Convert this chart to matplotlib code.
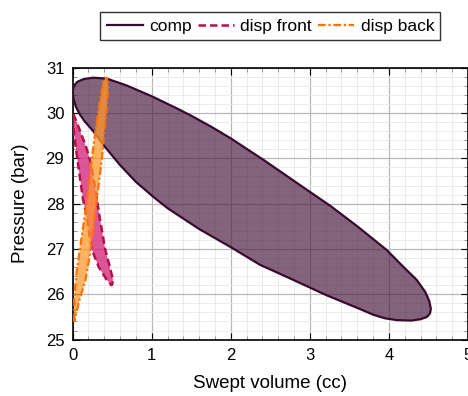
import matplotlib.pyplot as plt
from matplotlib.ticker import MultipleLocator

plt.rcParams['font.family'] = ['Liberation Sans', 'DejaVu Sans']
plt.rcParams['font.size'] = 12

# closed p-V loops (cc, bar)
comp_v = [0.0, 0.005, 0.02, 0.06, 0.14, 0.26, 0.43, 0.68, 1.0, 1.32, 1.5, 1.75, 2.0, 2.41, 3.0, 3.26, 3.6, 3.97,
          4.18, 4.35, 4.46, 4.51, 4.53, 4.52, 4.48, 4.40, 4.28, 4.1, 3.95, 3.8, 3.64, 3.21, 2.75, 2.37, 1.99,
          1.82, 1.6, 1.4, 1.2, 1.02, 0.8, 0.6, 0.41, 0.26, 0.15, 0.09, 0.04, 0.01, 0.0]
comp_p = [30.46, 30.53, 30.61, 30.69, 30.75, 30.78, 30.76, 30.61, 30.37, 30.10, 29.94, 29.70, 29.44, 28.97, 28.26, 27.95, 27.5, 26.98,
          26.61, 26.32, 26.05, 25.85, 25.68, 25.58, 25.5, 25.45, 25.42, 25.43, 25.47, 25.55, 25.67, 25.98, 26.35, 26.65, 27.05,
          27.22, 27.44, 27.67, 27.9, 28.15, 28.48, 28.85, 29.25, 29.6, 29.82, 29.97, 30.14, 30.32, 30.46]

front_v = [0.01, 0.09, 0.17, 0.23, 0.29, 0.34, 0.41, 0.47, 0.51, 0.50, 0.49, 0.43, 0.33, 0.24, 0.18,
           0.13, 0.09, 0.05, 0.02, 0.0, 0.01]
front_p = [29.98, 29.62, 29.25, 28.9, 28.3, 27.71, 27.0, 26.6, 26.32, 26.22, 26.2, 26.32, 26.6, 27.0, 27.7,
           28.1, 28.6, 29.1, 29.5, 29.9, 29.98]

back_v = [0.02, 0.02, 0.05, 0.10, 0.15, 0.20, 0.24, 0.28, 0.33, 0.39, 0.43, 0.45, 0.43, 0.40, 0.37,
          0.32, 0.27, 0.22, 0.16, 0.09, 0.04, 0.02]
back_p = [25.4, 25.9, 26.5, 27.1, 27.7, 28.3, 28.96, 29.5, 30.1, 30.72, 30.78, 30.6, 30.1, 29.6, 29.0,
          28.3, 27.6, 26.9, 26.3, 25.9, 25.55, 25.4]

fig = plt.figure(figsize=(4.68, 3.96), dpi=100)
ax = fig.add_axes([0.1553, 0.1424, 0.8447, 0.6866])

ax.fill(comp_v, comp_p, color='#4a1a40', alpha=0.68, lw=0, zorder=2)
l1, = ax.plot(comp_v, comp_p, color='#3a0a2e', lw=1.6, zorder=3, label='comp')
ax.fill(front_v, front_p, color='#d42c7e', alpha=0.8, lw=0, zorder=4)
l2, = ax.plot(front_v, front_p, color='#b80f48', lw=1.8, ls=(0, (3, 1.6)), zorder=5, label='disp front')
ax.fill(back_v, back_p, color='#ff9a30', alpha=0.75, lw=0, zorder=6)
l3, = ax.plot(back_v, back_p, color='#ff7200', lw=1.6, ls=(0, (3.5, 1.2, 1, 1.2)), zorder=7, label='disp back')

ax.set_xlim(0, 5)
ax.set_ylim(25, 31)
ax.xaxis.set_major_locator(MultipleLocator(1))
ax.xaxis.set_minor_locator(MultipleLocator(0.2))
ax.yaxis.set_major_locator(MultipleLocator(1))
ax.yaxis.set_minor_locator(MultipleLocator(0.2))
ax.grid(which='major', color='#b8b8b8', lw=0.9, zorder=0)
ax.grid(which='minor', color='#e8e8e8', lw=0.6, zorder=0)
ax.set_axisbelow(True)
ax.tick_params(which='both', direction='in', top=True, right=True, labelsize=12)
ax.tick_params(which='major', length=5, width=0.8, pad=6)
ax.tick_params(which='minor', length=3, width=0.6, color='#888888')
for s in ax.spines.values():
    s.set_linewidth(1.2)

ax.set_xlabel('Swept volume (cc)', fontsize=13.5, labelpad=9)
ax.set_ylabel('Pressure (bar)', fontsize=13.5, labelpad=12)

leg = ax.legend(handles=[l1, l2, l3], loc='lower center', bbox_to_anchor=(0.5, 1.103), ncol=3,
                fontsize=12.5, frameon=True, fancybox=False, edgecolor='black', borderaxespad=0,
                handlelength=2.1, handletextpad=0.35, columnspacing=0.35, borderpad=0.35)
leg.get_frame().set_linewidth(1.0)

fig.savefig('out.png', dpi=100)
